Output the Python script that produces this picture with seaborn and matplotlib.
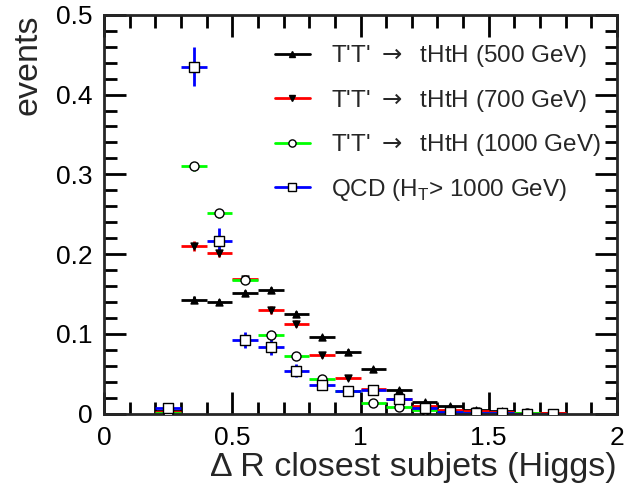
import numpy as np
import pandas as pd
import matplotlib
matplotlib.use("Agg")
import matplotlib.pyplot as plt
import seaborn as sns

# bin centres (width 0.1)
bins = [0.25, 0.35, 0.45, 0.55, 0.65, 0.75, 0.85, 0.95, 1.05, 1.15,
        1.25, 1.35, 1.45, 1.55, 1.65, 1.75]

tt500 = [0.003, 0.143, 0.140, 0.151, 0.155, 0.125, 0.096, 0.078, 0.056, 0.030,
         0.015, 0.010, 0.005, 0.003, 0.001, 0.001]
tt700 = [0.002, 0.210, 0.202, 0.169, 0.130, 0.113, 0.074, 0.045, 0.031, 0.019,
         0.010, 0.005, 0.003, 0.002, 0.001, 0.001]
tt1000 = [0.001, 0.310, 0.251, 0.168, 0.099, 0.073, 0.043, 0.028, 0.013, 0.009,
          0.005, 0.002, 0.001, 0.001, 0.001, 0.0]
qcd = [0.007, 0.435, 0.217, 0.092, 0.084, 0.054, 0.036, 0.029, 0.030, 0.018,
       0.007, 0.002, 0.001, 0.001, 0.0, 0.0]

err500 = [0.001, 0.004, 0.004, 0.004, 0.004, 0.004, 0.003, 0.003, 0.003, 0.002,
          0.001, 0.001, 0.001, 0.001, 0.0, 0.0]
err700 = [0.001, 0.006, 0.006, 0.005, 0.005, 0.004, 0.004, 0.003, 0.002, 0.002,
          0.001, 0.001, 0.001, 0.0, 0.0, 0.0]
err1000 = [0.001, 0.006, 0.006, 0.005, 0.004, 0.003, 0.003, 0.002, 0.002, 0.001,
           0.001, 0.001, 0.0, 0.0, 0.0, 0.0]
errqcd = [0.003, 0.024, 0.016, 0.010, 0.010, 0.008, 0.006, 0.005, 0.005, 0.004,
          0.002, 0.001, 0.001, 0.0, 0.0, 0.0]

labels = ["T'T' $\\mathsf{\\rightarrow}$  tHtH (500 GeV)",
          "T'T' $\\mathsf{\\rightarrow}$  tHtH (700 GeV)",
          "T'T' $\\mathsf{\\rightarrow}$  tHtH (1000 GeV)",
          "QCD (H$_\\mathregular{T}$> 1000 GeV)"]

sns.set_style("ticks")
plt.rcParams['font.family'] = ['Liberation Sans', 'DejaVu Sans']
plt.rcParams['mathtext.fontset'] = 'custom'
plt.rcParams['mathtext.rm'] = 'Liberation Sans'
plt.rcParams['mathtext.sf'] = 'DejaVu Sans'

rows = []
for lab, vals, errs in zip(labels, [tt500, tt700, tt1000, qcd],
                           [err500, err700, err1000, errqcd]):
    for b, v, e in zip(bins, vals, errs):
        rows.append({"dR": b, "events": v, "err": e, "sample": lab})
df = pd.DataFrame(rows)

colors = ["black", "#ff0000", "#00ff00", "#0000ff"]
markers = ["^", "v", "o", "s"]
mfaces = ["black", "black", "white", "white"]
msizes = [5, 5, 6.5, 6.5]

fig, ax = plt.subplots(figsize=(6.27, 4.92), dpi=100)
fig.subplots_adjust(left=0.166, right=0.984, top=0.970, bottom=0.159)

handles = []
for lab, c, m, mf, ms in zip(labels, colors, markers, mfaces, msizes):
    sub = df[df["sample"] == lab]
    ax.errorbar(sub["dR"], sub["events"], xerr=0.05, yerr=sub["err"],
                fmt="none", ecolor=c, elinewidth=2, capsize=0, zorder=2)
    sns.scatterplot(data=sub, x="dR", y="events", marker=m, color=mf,
                    edgecolor="black", linewidth=1, s=ms ** 2, ax=ax,
                    zorder=3, legend=False)
    handles.append(plt.Line2D([], [], color=c, lw=2, marker=m,
                              markersize=ms * 0.8, markerfacecolor=mf,
                              markeredgecolor="black"))

ax.legend(handles, labels, loc="upper left", bbox_to_anchor=(0.333, 0.928),
          frameon=False, fontsize=17.5, handlelength=1.45, labelspacing=0.76,
          handletextpad=0.85, borderaxespad=0, borderpad=0)

ax.set_xlim(0, 2)
ax.set_ylim(0, 0.5)
ax.set_xticks([0, 0.5, 1, 1.5, 2])
ax.set_xticklabels(["0", "0.5", "1", "1.5", "2"])
ax.set_yticks([0, 0.1, 0.2, 0.3, 0.4, 0.5])
ax.set_yticklabels(["0", "0.1", "0.2", "0.3", "0.4", "0.5"])
ax.set_xticks(np.arange(0, 2.01, 0.1), minor=True)
ax.set_yticks(np.arange(0, 0.501, 0.02), minor=True)
ax.tick_params(which="both", direction="in", top=True, right=True, width=2,
               labelsize=19, colors="black")
ax.tick_params(which="major", length=16)
ax.tick_params(which="minor", length=9)
ax.tick_params(axis="x", pad=9)
ax.tick_params(axis="y", pad=8)
for s in ax.spines.values():
    s.set_linewidth(2)

ax.set_xlabel("\u0394 R closest subjets (Higgs)", fontsize=24.5, loc="right",
              labelpad=1)
ax.set_ylabel("events", fontsize=24.5, loc="top", labelpad=9)

fig.savefig("out.png", dpi=100)
